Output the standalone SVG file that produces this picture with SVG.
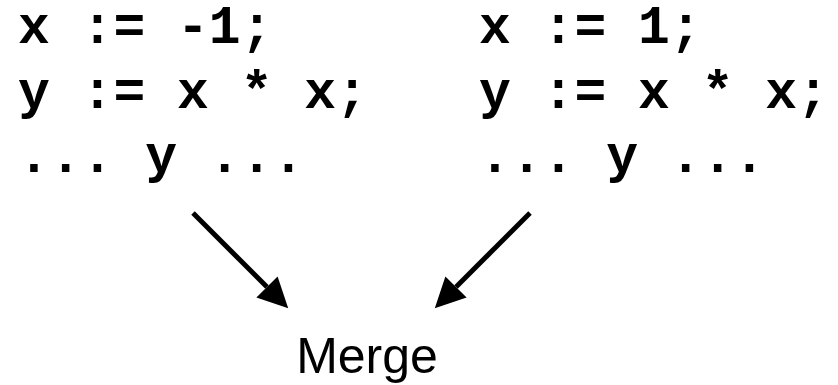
<svg xmlns="http://www.w3.org/2000/svg" width="838" height="385" viewBox="0 0 838 385">
<style>
.code{font-family:"Liberation Mono","Courier New",monospace;font-weight:bold;font-size:53px;fill:#000;white-space:pre}
.lbl{font-family:"Liberation Sans",Arial,sans-serif;font-size:50px;fill:#000}
.edge{stroke:#000;stroke-width:5;fill:none}
</style>
<defs>
<marker id="ah" markerUnits="userSpaceOnUse" markerWidth="32" markerHeight="32" refX="0" refY="15" orient="auto" viewBox="0 0 32 32">
<path d="M0,0 L30,15 L0,30 z" fill="#000"/>
</marker>
</defs>
<rect width="838" height="385" fill="#fff"/>
<g id="left">
<text class="code" x="18" y="43" xml:space="preserve">x := -1;</text>
<text class="code" x="18" y="108" xml:space="preserve">y := x * x;</text>
<text class="code" x="18" y="172" xml:space="preserve">... y ...</text>
</g>
<g id="right">
<text class="code" x="479" y="43" xml:space="preserve">x := 1;</text>
<text class="code" x="479" y="108" xml:space="preserve">y := x * x;</text>
<text class="code" x="479" y="172" xml:space="preserve">... y ...</text>
</g>
<g id="merge">
<text class="lbl" x="367" y="373" text-anchor="middle">Merge</text>
</g>
<g id="connectors">
<line class="edge" x1="193" y1="213" x2="267" y2="287" marker-end="url(#ah)"/>
<line class="edge" x1="530" y1="213" x2="456" y2="287" marker-end="url(#ah)"/>
</g>
</svg>
